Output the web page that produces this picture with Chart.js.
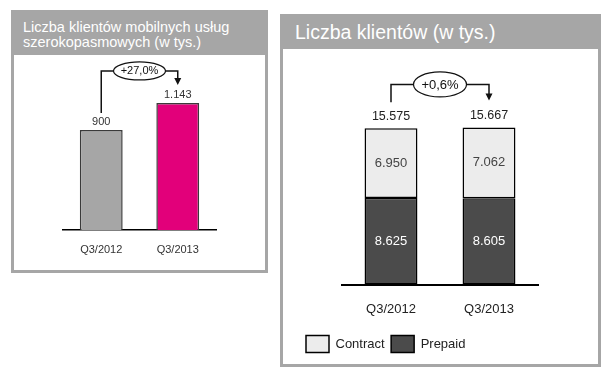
<!DOCTYPE html>
<html>
<head>
<meta charset="utf-8">
<script src="https://cdn.jsdelivr.net/npm/chart.js@4"></script>
<style>
  body { margin: 0; background: #fff; font-family: "Liberation Sans", Arial, sans-serif; }
  .panel { position: absolute; box-sizing: border-box; border: 3px solid #a6a6a6; background: #fff; }
  .head { position: absolute; left: 0; top: 0; right: 0; background: #a6a6a6; color: #fff; }
  .head div { position: absolute; white-space: nowrap; }
  canvas { position: absolute; left: 0; }
</style>
</head>
<body>
<div class="panel" style="left:11px;top:10px;width:257px;height:263px">
  <div class="head" style="height:42px">
    <div style="left:9px;top:6.5px;font-size:14.5px;line-height:15px">Liczba klientów mobilnych usług<br>szerokopasmowych (w tys.)</div>
  </div>
  <canvas id="broadbandChart" width="251" height="215" style="top:42px"></canvas>
</div>
<div class="panel" style="left:280px;top:14px;width:321px;height:353px">
  <div class="head" style="height:32px">
    <div style="left:12px;top:5.25px;font-size:19.5px;line-height:20px">Liczba klientów (w tys.)</div>
  </div>
  <canvas id="clientsChart" width="315" height="315" style="top:32px"></canvas>
</div>
<script>
const quarters = ['Q3/2012', 'Q3/2013'];
const broadband = [900, 1143];
const broadbandGrowth = '+27,0%';
const contract = [6950, 7062];
const prepaid = [8625, 8605];
const totals = [15575, 15667];
const totalGrowth = '+0,6%';

const FONT = '"Liberation Sans", Arial, sans-serif';
Chart.defaults.font.family = FONT;

function fmt(n) {
  return String(n).replace(/\B(?=(\d{3})+(?!\d))/g, '.');
}

// bracket line with ellipse label and arrow from first bar to second
function drawGrowth(ctx, g) {
  const mid = (g.x1 + g.x2) / 2;
  ctx.save();
  ctx.strokeStyle = '#111';
  ctx.fillStyle = '#111';
  ctx.lineWidth = 1.5;
  ctx.beginPath();
  ctx.moveTo(g.x1, g.yStart);
  ctx.lineTo(g.x1, g.yLine);
  ctx.lineTo(mid - g.rx, g.yLine);
  ctx.moveTo(mid + g.rx, g.yLine);
  ctx.lineTo(g.x2, g.yLine);
  ctx.lineTo(g.x2, g.yEnd - 6);
  ctx.stroke();
  ctx.beginPath();
  ctx.moveTo(g.x2 - 3.5, g.yEnd - 7);
  ctx.lineTo(g.x2 + 3.5, g.yEnd - 7);
  ctx.lineTo(g.x2, g.yEnd);
  ctx.closePath();
  ctx.fill();
  ctx.beginPath();
  ctx.ellipse(mid, g.yLine, g.rx, g.ry, 0, 0, Math.PI * 2);
  ctx.lineWidth = 1.2;
  ctx.stroke();
  ctx.font = g.size + 'px ' + FONT;
  ctx.textAlign = 'center';
  ctx.textBaseline = 'middle';
  ctx.fillText(g.text, mid, g.yLine + 0.5);
  ctx.restore();
}

const broadbandLabels = {
  id: 'broadbandLabels',
  afterDatasetsDraw(chart) {
    const ctx = chart.ctx;
    const bars = chart.getDatasetMeta(0).data;
    ctx.save();
    ctx.font = '11px ' + FONT;
    ctx.fillStyle = '#333';
    ctx.textAlign = 'center';
    ctx.textBaseline = 'middle';
    bars.forEach((b, i) => ctx.fillText(fmt(broadband[i]), b.x, b.y - 8));
    ctx.restore();
    drawGrowth(ctx, {
      x1: bars[0].x, x2: bars[1].x,
      yLine: bars[1].y - 32, yStart: bars[0].y - 17, yEnd: bars[1].y - 18,
      rx: 26, ry: 9, size: 11, text: broadbandGrowth
    });
  }
};

const clientsLabels = {
  id: 'clientsLabels',
  afterDatasetsDraw(chart) {
    const ctx = chart.ctx;
    const pre = chart.getDatasetMeta(0).data;
    const con = chart.getDatasetMeta(1).data;
    ctx.save();
    ctx.textAlign = 'center';
    ctx.textBaseline = 'middle';
    ctx.font = '13px ' + FONT;
    pre.forEach((b, i) => {
      ctx.fillStyle = '#fff';
      ctx.fillText(fmt(prepaid[i]), b.x, (b.y + b.base) / 2);
    });
    con.forEach((b, i) => {
      ctx.fillStyle = '#444';
      ctx.fillText(fmt(contract[i]), b.x, (b.y + b.base) / 2);
      ctx.fillStyle = '#222';
      ctx.font = '12.5px ' + FONT;
      ctx.fillText(fmt(totals[i]), b.x, b.y - 12);
      ctx.font = '13px ' + FONT;
    });
    ctx.restore();
    drawGrowth(ctx, {
      x1: con[0].x, x2: con[1].x,
      yLine: con[1].y - 43, yStart: con[0].y - 26, yEnd: con[1].y - 27,
      rx: 26.5, ry: 12.5, size: 13, text: totalGrowth
    });
  }
};

new Chart(document.getElementById('broadbandChart'), {
  type: 'bar',
  data: {
    labels: quarters,
    datasets: [{
      data: broadband,
      backgroundColor: ['#a6a6a6', '#e2007a'],
      borderColor: '#3a3a3a',
      borderWidth: 1.5,
      barPercentage: 0.56,
      categoryPercentage: 1
    }]
  },
  options: {
    responsive: false,
    animation: false,
    layout: { padding: { left: 49, right: 49, top: 19.4, bottom: 0 } },
    scales: {
      x: {
        grid: { display: false, drawTicks: false },
        border: { color: '#000', width: 1.5 },
        ticks: { color: '#333', font: { size: 11 }, padding: 13 },
        afterFit(s) { s.height = 40; }
      },
      y: { display: false, min: 0, max: 1400 }
    },
    plugins: { legend: { display: false }, tooltip: { enabled: false } }
  },
  plugins: [broadbandLabels]
});

new Chart(document.getElementById('clientsChart'), {
  type: 'bar',
  data: {
    labels: quarters,
    datasets: [
      {
        label: 'Prepaid',
        data: prepaid,
        backgroundColor: '#4b4b4b',
        borderColor: '#000',
        borderWidth: 1.5,
        borderSkipped: false,
        barPercentage: 0.54,
        categoryPercentage: 1
      },
      {
        label: 'Contract',
        data: contract,
        backgroundColor: '#ececec',
        borderColor: '#000',
        borderWidth: 1.5,
        borderSkipped: false,
        barPercentage: 0.54,
        categoryPercentage: 1
      }
    ]
  },
  options: {
    responsive: false,
    animation: false,
    layout: { padding: { left: 16.5, right: 60, top: 39, bottom: 1.5 } },
    scales: {
      x: {
        stacked: true,
        grid: { display: false, drawTicks: false },
        border: { color: '#000', width: 2 },
        ticks: { color: '#222', font: { size: 13 }, padding: 17 },
        afterFit(s) { s.height = 44.5; }
      },
      y: {
        stacked: true,
        min: 0,
        max: 19600,
        grid: { display: false },
        border: { display: false },
        ticks: { display: false },
        afterFit(s) { s.width = 42.5; }
      }
    },
    plugins: {
      legend: {
        position: 'bottom',
        align: 'start',
        reverse: true,
        labels: { boxWidth: 23, boxHeight: 17, padding: 6.5, color: '#222', font: { size: 13 } }
      },
      tooltip: { enabled: false }
    }
  },
  plugins: [clientsLabels]
});
</script>
</body>
</html>
